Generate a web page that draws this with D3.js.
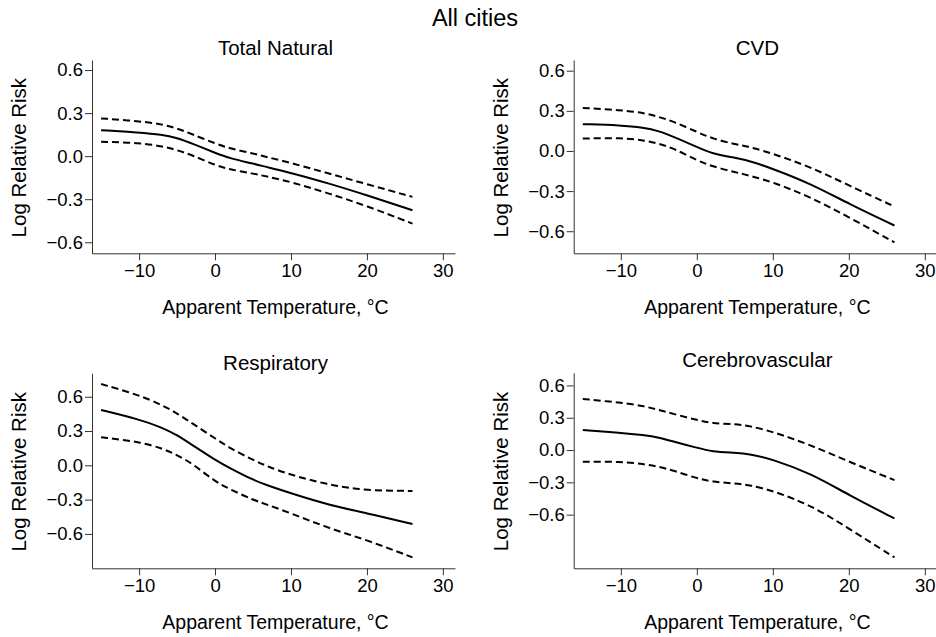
<!DOCTYPE html>
<html>
<head>
<meta charset="utf-8">
<script src="https://cdn.jsdelivr.net/npm/d3@7"></script>
<style>
html,body{margin:0;padding:0;background:#fff;}
svg{display:block;font-family:"Liberation Sans",Arial,Helvetica,sans-serif;}
</style>
</head>
<body>
<svg id="chart" width="936" height="637"></svg>
<script>
// ---- data ----
const mainTitle = "All cities";
const xTitle = "Apparent Temperature, \u00B0C";
const yTitle = "Log Relative Risk";
const temps = [-15, -10, -7, -5, -3, 0, 2, 5, 7, 10, 15, 20, 26];
const xTicks = [-10, 0, 10, 20, 30];
const yTicks = [-0.6, -0.3, 0.0, 0.3, 0.6];
const panelNames = ["Total Natural", "CVD", "Respiratory", "Cerebrovascular"];

const totalMean  = [0.181, 0.165, 0.151, 0.128, 0.088, 0.023, -0.016, -0.051, -0.079, -0.116, -0.190, -0.272, -0.377];
const totalUpper = [0.263, 0.244, 0.223, 0.193, 0.153, 0.088, 0.053, 0.019, -0.009, -0.047, -0.121, -0.195, -0.284];
const totalLower = [0.100, 0.093, 0.070, 0.042, 0.007, -0.063, -0.093, -0.121, -0.144, -0.179, -0.260, -0.347, -0.470];

const cvdMean  = [0.200, 0.193, 0.175, 0.150, 0.105, 0.030, -0.020, -0.050, -0.075, -0.133, -0.245, -0.395, -0.557];
const cvdUpper = [0.322, 0.305, 0.285, 0.255, 0.218, 0.143, 0.093, 0.050, 0.030, -0.020, -0.120, -0.258, -0.415];
const cvdLower = [0.093, 0.098, 0.080, 0.055, 0.018, -0.070, -0.115, -0.158, -0.185, -0.233, -0.345, -0.495, -0.683];

const respMean  = [0.484, 0.402, 0.332, 0.265, 0.178, 0.047, -0.026, -0.128, -0.178, -0.245, -0.347, -0.420, -0.513];
const respUpper = [0.711, 0.615, 0.528, 0.455, 0.367, 0.236, 0.149, 0.047, -0.012, -0.085, -0.172, -0.222, -0.224];
const respLower = [0.245, 0.207, 0.149, 0.090, 0.017, -0.143, -0.210, -0.303, -0.347, -0.420, -0.551, -0.653, -0.805];

const cereMean  = [0.186, 0.161, 0.139, 0.118, 0.077, 0.022, -0.015, -0.025, -0.037, -0.087, -0.217, -0.418, -0.635];
const cereUpper = [0.474, 0.440, 0.409, 0.372, 0.334, 0.279, 0.248, 0.241, 0.223, 0.170, 0.046, -0.108, -0.279];
const cereLower = [-0.108, -0.108, -0.130, -0.155, -0.192, -0.263, -0.294, -0.310, -0.325, -0.378, -0.511, -0.728, -0.997];

// ---- layout (pixel frames) ----
const panels = [
  {name: panelNames[0], mean: totalMean, upper: totalUpper, lower: totalLower,
   x0: 92, x1: 455, yTop: 60, yBot: 253.3, yDom: [-0.677, 0.670], titleY: 55},
  {name: panelNames[1], mean: cvdMean, upper: cvdUpper, lower: cvdLower,
   x0: 573.7, x1: 937, yTop: 60, yBot: 253.3, yDom: [-0.765, 0.680], titleY: 55},
  {name: panelNames[2], mean: respMean, upper: respUpper, lower: respLower,
   x0: 92, x1: 455, yTop: 373.3, yBot: 568.3, yDom: [-0.901, 0.805], titleY: 369.5},
  {name: panelNames[3], mean: cereMean, upper: cereUpper, lower: cereLower,
   x0: 573.7, x1: 937, yTop: 372.7, yBot: 568.3, yDom: [-1.098, 0.718], titleY: 366.5}
];
const xDom = [-16.2, 31.6];

const svg = d3.select("#chart");
const fmt = v => d3.format(".1f")(v).replace("-", "\u2212");
const fmtX = v => String(v).replace("-", "\u2212");

svg.append("text")
  .attr("x", 475).attr("y", 26)
  .attr("text-anchor", "middle")
  .attr("font-size", 23.5)
  .attr("fill", "#000")
  .text(mainTitle);

panels.forEach(p => {
  const x = d3.scaleLinear().domain(xDom).range([p.x0, p.x1]);
  const y = d3.scaleLinear().domain(p.yDom).range([p.yBot, p.yTop]);
  const g = svg.append("g");

  // x axis
  const xa = g.append("g")
    .attr("transform", `translate(0,${p.yBot})`)
    .call(d3.axisBottom(x).tickValues(xTicks).tickFormat(fmtX).tickSize(7).tickSizeOuter(0).tickPadding(4));
  xa.select(".domain").attr("stroke", "#333");
  xa.selectAll(".tick line").attr("stroke", "#333");
  xa.selectAll(".tick text").attr("font-size", 18.5).attr("fill", "#000")
    .attr("font-family", "'Liberation Sans',Arial,sans-serif");

  // y axis
  const ya = g.append("g")
    .attr("transform", `translate(${p.x0},0)`)
    .call(d3.axisLeft(y).tickValues(yTicks).tickFormat(fmt).tickSize(7).tickSizeOuter(0).tickPadding(2));
  ya.select(".domain").attr("stroke", "#333");
  ya.selectAll(".tick line").attr("stroke", "#333");
  ya.selectAll(".tick text").attr("font-size", 18.5).attr("fill", "#000")
    .attr("font-family", "'Liberation Sans',Arial,sans-serif");

  // titles
  g.append("text")
    .attr("x", (p.x0 + p.x1) / 2 + 2).attr("y", p.titleY)
    .attr("text-anchor", "middle").attr("font-size", 20.5)
    .text(p.name);
  g.append("text")
    .attr("x", (p.x0 + p.x1) / 2 + 2).attr("y", p.yBot + 60.5)
    .attr("text-anchor", "middle").attr("font-size", 19.5)
    .text(xTitle);
  g.append("text")
    .attr("transform", `translate(${p.x0 - 66},${(p.yTop + p.yBot) / 2 + 1}) rotate(-90)`)
    .attr("text-anchor", "middle").attr("font-size", 20.5)
    .text(yTitle);

  // lines
  const line = vals => d3.line()
    .x((d, i) => x(temps[i]))
    .y(d => y(d))
    .curve(d3.curveBasis)(vals);

  g.append("path").attr("d", line(p.upper))
    .attr("fill", "none").attr("stroke", "#000").attr("stroke-width", 2)
    .attr("stroke-dasharray", "7,4");
  g.append("path").attr("d", line(p.lower))
    .attr("fill", "none").attr("stroke", "#000").attr("stroke-width", 2)
    .attr("stroke-dasharray", "7,4");
  g.append("path").attr("d", line(p.mean))
    .attr("fill", "none").attr("stroke", "#000").attr("stroke-width", 2);
});
</script>
</body>
</html>
